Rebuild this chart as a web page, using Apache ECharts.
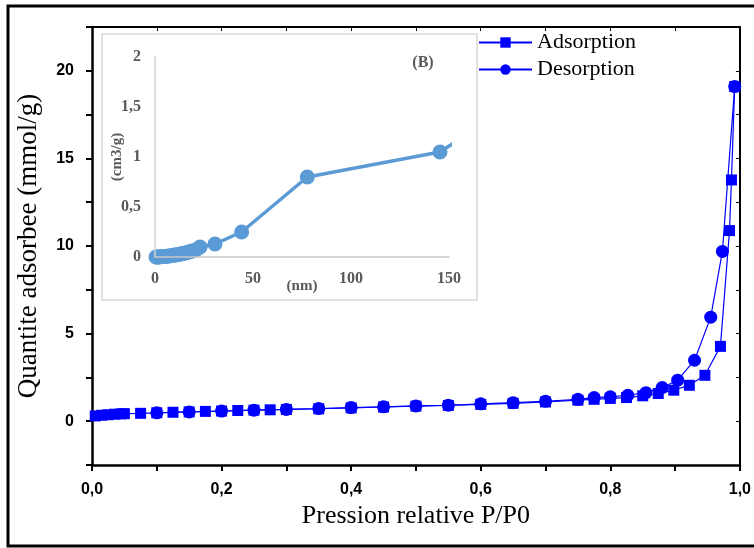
<!DOCTYPE html>
<html><head><meta charset="utf-8">
<script src="https://cdn.jsdelivr.net/npm/echarts@6/dist/echarts.min.js"></script>
<style>html,body{margin:0;padding:0;background:#fff}#c{width:754px;height:548px}</style>
</head><body><div id="c"></div>
<script>
// Main chart: N2 isotherm
const adsP = [0.005,0.015,0.025,0.035,0.045,0.05,0.075,0.1,0.125,0.15,0.175,0.2,0.225,0.25,0.275,0.3,0.35,0.4,0.45,0.5,0.55,0.6,0.65,0.7,0.75,0.775,0.8,0.825,0.85,0.874,0.898,0.922,0.946,0.97,0.984,0.987,0.992];
const adsV = [0.3,0.34,0.37,0.4,0.42,0.43,0.45,0.48,0.51,0.53,0.56,0.58,0.61,0.63,0.65,0.67,0.71,0.76,0.81,0.86,0.9,0.96,1.02,1.1,1.2,1.25,1.3,1.35,1.45,1.58,1.77,2.05,2.62,4.27,10.88,13.77,19.1];
const desP = [0.992,0.973,0.955,0.93,0.904,0.88,0.855,0.827,0.8,0.775,0.75,0.7,0.65,0.6,0.55,0.5,0.45,0.4,0.35,0.3,0.25,0.2,0.15,0.1];
const desV = [19.1,9.69,5.94,3.48,2.34,1.92,1.63,1.48,1.39,1.35,1.25,1.14,1.06,0.99,0.91,0.87,0.82,0.78,0.72,0.67,0.63,0.58,0.53,0.48];
// Inset (B): pore size distribution
const insetNm = [0.5,1,1.5,2,3,4,5,6,7,8,9,10,11,12,13,14,15,16,17,18,19,20,21,23,30.6,44.2,77.7,145.4,165];
const insetV  = [0,0,0,0,0.002,0.004,0.006,0.008,0.01,0.013,0.016,0.019,0.022,0.026,0.03,0.034,0.038,0.043,0.048,0.054,0.06,0.066,0.072,0.1,0.13,0.25,0.80,1.05,1.3];
const seriesNames = ['Adsorption','Desorption'];

const zip = (a,b)=>a.map((x,i)=>[x,b[i]]);
const chart = echarts.init(document.getElementById('c'), null, {renderer:'canvas'});
const blue = '#0000FF';
const grayT = '#595959';
chart.setOption({
  animation:false,
  backgroundColor:'#fff',
  graphic:[
    {type:'rect', z:-100, shape:{x:8,y:6,width:780,height:540}, style:{fill:'none',stroke:'#000',lineWidth:3}},
    {type:'rect', z:-50, shape:{x:102,y:34,width:375,height:266}, style:{fill:'#fff',stroke:'#d9d9d9',lineWidth:1.5}},
    {type:'text', z:100, x:423, y:63, style:{text:'(B)', fill:grayT, font:'bold 16px "Liberation Serif", serif', textAlign:'center', textVerticalAlign:'middle'}}
  ],
  legend:{
    data:seriesNames, orient:'vertical', left:473, top:26, itemWidth:53, itemHeight:13, itemGap:4,
    textStyle:{fontFamily:'"Liberation Serif", serif', fontSize:22, color:'#000', lineHeight:23}
  },
  grid:[
    {left:92, top:27, right:12, bottom:83},
    {left:155, top:57, width:294, height:200}
  ],
  xAxis:[
    {gridIndex:0, type:'value', min:0, max:1, interval:0.1, position:'bottom',
     name:'Pression relative P/P0', nameLocation:'middle', nameGap:38,
     nameTextStyle:{fontFamily:'"Liberation Serif", serif', fontSize:26, color:'#000'},
     axisLine:{show:true, onZero:false, lineStyle:{color:'#000', width:2.5}},
     axisTick:{show:true, inside:false, length:6, lineStyle:{color:'#000', width:2}},
     splitLine:{show:false},
     axisLabel:{margin:17, fontFamily:'"Liberation Sans", Arial, sans-serif', fontWeight:'bold', fontSize:16, color:'#000',
       formatter:v=>{const k=Math.round(v*10); return k%2===0 ? (k/10).toFixed(1).replace('.',',') : '';}}},
    {gridIndex:0, type:'value', min:0, max:1, interval:0.1, position:'top',
     axisLine:{show:true, onZero:false, lineStyle:{color:'#000', width:2}},
     axisTick:{show:true, inside:true, length:4, lineStyle:{color:'#000', width:1}},
     axisLabel:{show:false}, splitLine:{show:false}},
    {gridIndex:1, type:'value', min:0, max:150, interval:50, z:10,
     name:'(nm)', nameLocation:'middle', nameGap:22, nameMoveOverlap:false,
     nameTextStyle:{fontFamily:'"Liberation Serif", serif', fontWeight:'bold', fontSize:15, color:grayT},
     axisLine:{show:true, lineStyle:{color:'#c8c8c8', width:1.5}},
     axisTick:{show:false}, splitLine:{show:false},
     axisLabel:{margin:14, fontFamily:'"Liberation Serif", serif', fontWeight:'bold', fontSize:16, color:grayT}}
  ],
  yAxis:[
    {gridIndex:0, type:'value', min:-2.5, max:22.5, interval:2.5, position:'left',
     name:'Quantite adsorbee (mmol/g)', nameLocation:'middle', nameGap:50,
     nameTextStyle:{fontFamily:'"Liberation Serif", serif', fontSize:27, color:'#000'},
     axisLine:{show:true, onZero:false, lineStyle:{color:'#000', width:2.5}},
     axisTick:{show:true, inside:false, length:6, lineStyle:{color:'#000', width:2}},
     splitLine:{show:false},
     axisLabel:{margin:18, fontFamily:'"Liberation Sans", Arial, sans-serif', fontWeight:'bold', fontSize:16, color:'#000',
       formatter:v=>{const r=Math.round(v*10)/10; return (r%5===0 && r>=0) ? String(r) : '';}}},
    {gridIndex:0, type:'value', min:-2.5, max:22.5, interval:2.5, position:'right',
     axisLine:{show:true, onZero:false, lineStyle:{color:'#000', width:2}},
     axisTick:{show:true, inside:true, length:4, lineStyle:{color:'#000', width:1}},
     axisLabel:{show:false}, splitLine:{show:false}},
    {gridIndex:1, type:'value', min:0, max:2, interval:0.5, z:10,
     name:'(cm3/g)', nameLocation:'middle', nameGap:30, nameMoveOverlap:false,
     nameTextStyle:{fontFamily:'"Liberation Serif", serif', fontWeight:'bold', fontSize:15, color:grayT},
     axisLine:{show:true, lineStyle:{color:'#d0d0d0', width:1.5}},
     axisTick:{show:false}, splitLine:{show:false},
     axisLabel:{margin:14, fontFamily:'"Liberation Serif", serif', fontWeight:'bold', fontSize:16, color:grayT,
       formatter:v=>String(v).replace('.',',')}}
  ],
  series:[
    {name:'Adsorption', type:'line', xAxisIndex:0, yAxisIndex:0, data:zip(adsP,adsV),
     symbol:'rect', symbolSize:11, lineStyle:{color:blue,width:1.2}, itemStyle:{color:blue}, z:3},
    {name:'Desorption', type:'line', xAxisIndex:0, yAxisIndex:0, data:zip(desP,desV),
     symbol:'circle', symbolSize:13, lineStyle:{color:blue,width:1.2}, itemStyle:{color:blue}, z:4},
    {name:'inset', type:'line', xAxisIndex:2, yAxisIndex:2, data:zip(insetNm,insetV), clip:true,
     symbol:'circle', symbolSize:15, showAllSymbol:true, lineStyle:{color:'#5B9BD5',width:3.5}, itemStyle:{color:'#5B9BD5'}, z:6}
  ]
});
</script></body></html>
